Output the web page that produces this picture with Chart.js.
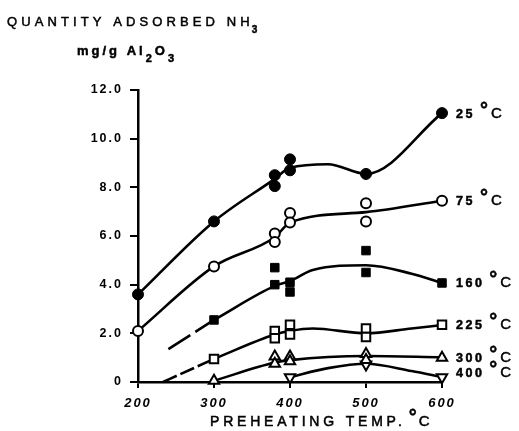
<!DOCTYPE html>
<html><head><meta charset="utf-8">
<script src="https://cdn.jsdelivr.net/npm/chart.js@4"></script>
<style>html,body{margin:0;padding:0;background:#fff;} canvas{display:block;}</style>
</head><body>
<canvas id="c" width="519" height="431"></canvas>
<script>
// ---- data ----
const seriesNames = ['25', '75', '160', '225', '300', '400'];
const xTickValues = [200, 300, 400, 500, 600];
const yTickLabels = ['0', '2.0', '4.0', '6.0', '8.0', '10.0', '12.0'];

// measured points
const s25X  = [200, 300, 380, 380, 400, 400, 500, 600];
const s25Y  = [3.6, 6.6, 8.5, 8.05, 9.15, 8.7, 8.55, 11.05];
const s75X  = [200, 300, 380, 380, 400, 400, 500, 500, 600];
const s75Y  = [2.1, 4.75, 6.1, 5.75, 6.95, 6.55, 7.35, 6.6, 7.45];
const s160X = [300, 380, 380, 400, 400, 500, 500, 600];
const s160Y = [2.55, 4.7, 4.0, 4.1, 3.7, 5.4, 4.5, 4.07];
const s225X = [300, 380, 380, 400, 400, 500, 500, 600];
const s225Y = [0.95, 2.1, 1.8, 2.35, 1.95, 2.2, 1.85, 2.35];
const s300X = [300, 380, 380, 400, 400, 500, 500, 600];
const s300Y = [0.05, 1.05, 0.75, 1.05, 0.85, 1.15, 0.9, 1.0];
const s400X = [400, 500, 600];
const s400Y = [0.2, 0.72, 0.2];

// hand-drawn fit curves (nodes)
const c25X  = [200, 300, 380, 400, 450, 500, 600];
const c25Y  = [3.6, 6.6, 8.35, 8.8, 8.95, 8.55, 11.05];
const c75X  = [200, 300, 380, 400, 500, 600];
const c75Y  = [2.1, 4.75, 5.95, 6.55, 6.98, 7.45];
const c160X = [300, 380, 400, 430, 500, 560, 600];
const c160Y = [2.55, 3.95, 4.15, 4.6, 4.8, 4.45, 4.07];
const d160X = [240, 300];
const d160Y = [1.35, 2.55];
const c225X = [300, 380, 400, 430, 500, 560, 600];
const c225Y = [0.95, 1.95, 2.1, 2.2, 2.0, 2.2, 2.34];
const d225X = [233, 300];
const d225Y = [0, 0.95];
const c300X = [300, 380, 400, 500, 600];
const c300Y = [0.05, 0.8, 0.9, 1.07, 1.02];
const c400X = [400, 450, 500, 560, 600];
const c400Y = [0.2, 0.57, 0.75, 0.45, 0.2];

const pts = (xs, ys) => xs.map((x, i) => ({x: x, y: ys[i]}));

const BLACK = '#000';
const lineDs = (xs, ys, dash) => ({
  data: pts(xs, ys), showLine: true, pointRadius: 0, borderColor: BLACK,
  borderWidth: 2.6, cubicInterpolationMode: 'monotone', borderDash: dash || [],
  order: 2, clip: false, fill: false
});
const markDs = (xs, ys, style, filled, r, rot) => ({
  data: pts(xs, ys), showLine: false, pointStyle: style, pointRadius: r,
  pointRotation: rot || 0,
  pointBackgroundColor: filled ? BLACK : '#fff', pointBorderColor: BLACK,
  pointBorderWidth: filled ? 1 : 2, order: 1, clip: false
});

const lastY = [s25Y, s75Y, s160Y, s225Y, s300Y, s400Y].map(a => a[a.length - 1]);

const FONT = '"Liberation Sans", Arial, sans-serif';

function txt(ctx, s, x, y, font, spacing) {
  ctx.font = font;
  ctx.letterSpacing = spacing + 'px';
  ctx.fillText(s, x, y);
  ctx.lineWidth = 0.5;
  ctx.strokeText(s, x, y);
  return ctx.measureText(s).width;
}

const textPlugin = {
  id: 'texts',
  beforeDraw(chart) { chart.ctx.letterSpacing = '2px'; },
  afterDraw(chart) {
    const ctx = chart.ctx;
    ctx.save();
    ctx.fillStyle = BLACK;
    ctx.strokeStyle = BLACK;
    ctx.textAlign = 'left';
    ctx.textBaseline = 'alphabetic';
    // y title
    let w = txt(ctx, 'QUANTITY ADSORBED NH', 7, 26, '13px ' + FONT, 4.1);
    txt(ctx, '3', 7 + w - 2, 33, 'bold 10px ' + FONT, 0);
    // units
    let x = 77;
    const parts = [['mg/g Al', false], ['2', true], ['O', false], ['3', true]];
    parts.forEach(p => {
      const ww = txt(ctx, p[0], x, p[1] ? 62 : 55, p[1] ? 'bold 11px ' + FONT : 'bold 13px ' + FONT, p[1] ? 0 : 3);
      x += ww + (p[1] ? 3 : 0);
    });
    // x title
    w = txt(ctx, 'PREHEATING TEMP.', 210, 426, '14px ' + FONT, 3.8);
    txt(ctx, '°', 210 + w + 3, 423, 'bold 20px ' + FONT, 0);
    txt(ctx, 'C', 210 + w + 13, 426, '15px ' + FONT, 0);
    // series labels
    const xs = chart.scales.x, ys = chart.scales.y;
    const x0 = xs.getPixelForValue(600) + 14;
    seriesNames.forEach((n, i) => {
      const yc = Math.min(ys.getPixelForValue(lastY[i]), chart.chartArea.bottom - 10);
      const base = yc + 4.5;
      const ww = txt(ctx, n, x0, base, 'bold 12.5px ' + FONT, 2.5);
      txt(ctx, '°', x0 + ww + 5, base - 2, 'bold 20px ' + FONT, 0);
      txt(ctx, 'C', x0 + ww + 16, base, '15px ' + FONT, 0);
    });
    ctx.restore();
    ctx.letterSpacing = '0px';
  }
};

new Chart(document.getElementById('c'), {
  type: 'scatter',
  data: {
    datasets: [
      lineDs(c25X, c25Y), lineDs(c75X, c75Y), lineDs(c160X, c160Y), lineDs(d160X, d160Y, [26, 6]),
      lineDs(c225X, c225Y), lineDs(d225X, d225Y, [15, 4]), lineDs(c300X, c300Y), lineDs(c400X, c400Y),
      markDs(s25X, s25Y, 'circle', true, 5.5),
      markDs(s75X, s75Y, 'circle', false, 5),
      markDs(s160X, s160Y, 'rect', true, 6),
      markDs(s225X, s225Y, 'rect', false, 6),
      markDs(s300X, s300Y, 'triangle', false, 6),
      markDs(s400X, s400Y, 'triangle', false, 6, 180)
    ]
  },
  options: {
    responsive: false, animation: false, devicePixelRatio: 1,
    layout: {padding: {top: 90, right: 77, left: 0, bottom: 0}},
    plugins: {legend: {display: false}, tooltip: {enabled: false}, title: {display: false}},
    scales: {
      x: {
        type: 'linear', position: 'bottom', min: 200, max: 600,
        afterBuildTicks: s => { s.ticks = xTickValues.map(v => ({value: v})); },
        afterFit: s => { s.height = 49; },
        ticks: {color: BLACK, font: {family: FONT, size: 13, weight: 'bold', style: 'italic'},
                padding: 8, maxRotation: 0, autoSkip: false, callback: v => String(v)},
        grid: {drawOnChartArea: false, drawTicks: true, tickLength: 6, lineWidth: 2, color: BLACK},
        border: {display: true, color: BLACK, width: 2.5}
      },
      y: {
        type: 'linear', min: 0, max: 12,
        afterBuildTicks: s => { s.ticks = yTickLabels.map((l, i) => ({value: i * 2})); },
        afterFit: s => { s.width = 138; },
        ticks: {color: BLACK, font: {family: FONT, size: 12.5, weight: 'bold'},
                padding: 7, callback: v => yTickLabels[Math.round(v / 2)]},
        grid: {drawOnChartArea: false, drawTicks: true, tickLength: 8, lineWidth: 2, color: BLACK},
        border: {display: true, color: BLACK, width: 2.5}
      }
    }
  },
  plugins: [textPlugin]
});
</script>
</body></html>
